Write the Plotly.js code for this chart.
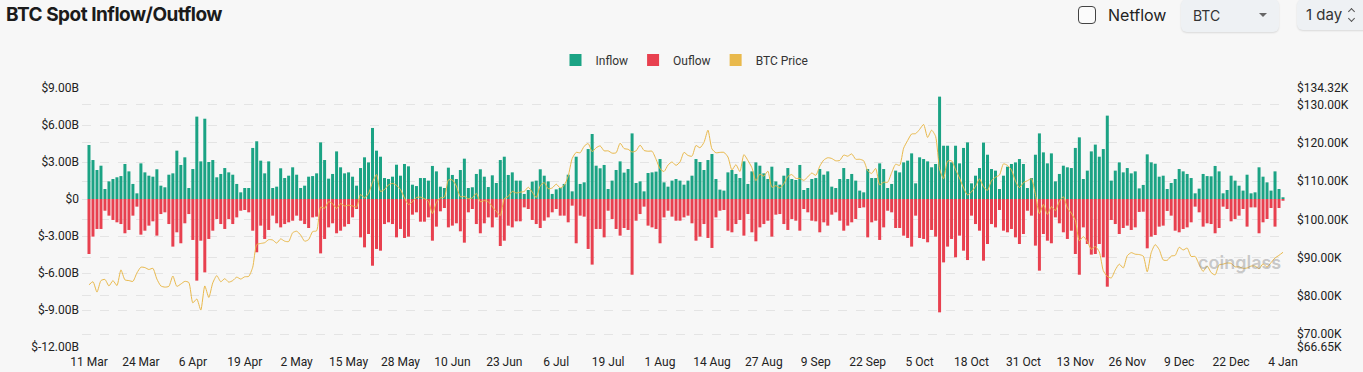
<!DOCTYPE html>
<html>
<head>
<meta charset="utf-8">
<script src="https://cdn.plot.ly/plotly-3.0.1.min.js"></script>
<style>
html,body{margin:0;padding:0;background:#f7f7f7;width:1363px;height:372px;overflow:hidden;font-family:Inter,Roboto,sans-serif;}
#chart{position:absolute;left:0;top:0;width:1363px;height:372px;}
.title{position:absolute;left:6px;top:3px;font-weight:700;font-size:19px;color:#1b1b1b;letter-spacing:-0.5px;white-space:nowrap;}
.chk{position:absolute;left:1078px;top:6px;width:16px;height:16px;border:1.6px solid #444;border-radius:4px;background:#fbfbfb;}
.netflow{position:absolute;left:1108px;top:5px;font-size:16px;color:#222;}
.sel{position:absolute;left:1181px;top:-1px;width:98px;height:33px;background:#eef1f4;border-radius:6px;box-shadow:0 1px 2px rgba(0,0,0,0.12);}
.sel .t{position:absolute;left:12px;top:8px;font-size:14px;color:#333;}
.sel .c{position:absolute;left:78px;top:14px;width:0;height:0;border-left:4px solid transparent;border-right:4px solid transparent;border-top:4px solid #666;}
.day{position:absolute;left:1297px;top:-1px;width:80px;height:31px;background:#eef1f4;border-radius:6px;box-shadow:0 1px 2px rgba(0,0,0,0.12);}
.day .t{position:absolute;left:9px;top:6px;font-size:15px;color:#333;}
.day .up,.day .dn{position:absolute;left:52px;width:4px;height:4px;border-left:1.3px solid #555;border-top:1.3px solid #555;}
.day .up{top:10px;transform:rotate(45deg);}
.day .dn{top:17px;transform:rotate(225deg);}
</style>
</head>
<body>
<div id="chart"></div>
<div class="title">BTC Spot Inflow/Outflow</div>
<div class="chk"></div>
<div class="netflow">Netflow</div>
<div class="sel"><span class="t">BTC</span><span class="c"></span></div>
<div class="day"><span class="t">1 day</span><span class="up"></span><span class="dn"></span></div>
<script>
// Daily series from 11 Mar 2025 to 4 Jan 2026 (values in $B and $K)
const startDay = '2025-03-11';

const inflow = [
4.38,3.16,2.35,2.70,0.81,1.43,1.62,1.76,1.86,2.84,
2.24,1.22,0.46,2.89,2.16,1.89,1.81,2.41,1.08,0.95,
1.97,2.08,3.92,2.76,3.38,0.89,2.43,6.68,3.05,6.51,
3.00,3.16,1.76,2.03,2.51,2.16,1.97,1.22,0.54,0.89,
0.89,4.14,4.68,3.11,2.08,3.05,0.89,1.00,2.49,1.70,
1.89,2.57,1.97,0.89,1.08,1.81,1.86,2.08,4.59,3.16,
1.65,2.03,3.86,2.57,2.08,2.16,1.81,1.08,2.51,3.38,
2.97,5.76,3.92,3.43,1.70,1.62,1.81,2.78,1.89,2.84,
2.65,1.16,1.05,1.70,1.70,1.49,2.68,2.24,1.00,0.89,
2.54,1.95,1.62,2.35,3.27,0.89,0.95,2.03,2.41,1.81,
0.97,1.92,1.30,3.16,3.43,1.95,2.16,1.49,1.49,0.41,
0.73,1.41,1.49,2.41,1.89,1.43,0.41,0.78,0.89,1.22,
1.97,0.62,3.43,1.22,1.35,4.05,5.27,2.70,2.49,2.76,
0.81,1.49,2.35,3.05,2.14,2.43,5.32,1.30,1.43,0.62,
2.11,2.16,2.22,3.24,1.35,1.00,1.49,1.62,1.49,1.16,
1.49,1.89,3.24,3.00,2.35,3.16,3.65,1.62,0.76,0.68,
2.16,2.35,2.03,1.70,3.05,1.22,2.24,2.97,2.70,2.08,
1.62,2.62,1.43,1.16,1.89,2.51,1.62,1.54,2.76,0.73,
0.89,1.62,1.70,2.43,1.97,2.24,1.00,0.89,1.62,2.51,
1.62,2.03,1.49,0.68,0.54,2.43,1.70,1.70,2.89,2.43,
0.89,1.22,2.30,2.16,2.97,3.11,3.70,1.27,3.38,3.24,
3.05,2.57,2.84,8.30,4.32,4.32,2.97,4.32,2.89,4.14,
4.59,1.27,1.89,2.51,4.57,3.59,2.43,2.30,0.81,1.89,
2.62,2.84,2.97,3.24,2.84,0.89,1.70,3.59,5.32,3.78,
2.89,3.70,1.43,2.03,2.70,2.57,2.51,4.14,5.00,1.62,
2.30,3.86,4.41,3.43,4.05,6.76,1.49,2.30,2.97,2.16,
2.51,2.08,2.24,0.86,1.14,3.62,2.97,2.86,1.81,1.89,
0.81,1.30,1.62,2.43,2.24,2.03,1.70,0.46,0.84,2.03,
1.86,1.84,2.68,2.24,0.46,0.73,1.89,1.49,1.08,0.68,
1.97,0.46,0.54,2.57,1.81,1.35,0.68,2.24,0.81,0.14
];

const outflow = [
-4.46,-3.05,-2.43,-2.43,-0.95,-1.35,-1.70,-1.89,-2.03,-2.78,
-2.51,-1.35,-0.62,-2.89,-2.57,-2.16,-1.81,-2.97,-1.22,-1.08,
-2.03,-3.86,-2.70,-3.59,-1.97,-1.22,-3.32,-6.62,-3.38,-5.95,
-3.24,-2.57,-1.62,-2.03,-2.43,-1.62,-2.03,-1.49,-0.95,-0.89,
-1.08,-2.57,-4.32,-2.16,-3.24,-2.51,-1.35,-1.97,-2.30,-2.03,
-1.89,-1.76,-1.35,-1.76,-2.03,-2.35,-1.49,-1.43,-4.41,-3.24,
-2.30,-1.97,-2.78,-2.57,-2.24,-2.03,-1.49,-0.81,-3.11,-3.92,
-2.84,-5.41,-4.05,-4.19,-2.03,-1.89,-2.03,-3.11,-2.43,-3.16,
-3.05,-1.27,-1.08,-1.84,-1.84,-1.49,-3.38,-2.24,-1.00,-0.73,
-2.30,-2.16,-1.97,-2.62,-3.54,-1.08,-0.81,-2.03,-2.78,-1.97,
-1.49,-2.30,-1.49,-3.81,-3.38,-2.16,-2.30,-1.81,-1.81,-0.68,
-0.81,-1.70,-2.03,-2.35,-1.76,-1.49,-1.08,-0.81,-1.35,-1.35,
-1.89,-0.54,-3.59,-1.35,-1.43,-4.05,-5.32,-2.43,-2.43,-3.11,
-0.95,-1.62,-2.43,-2.97,-2.35,-2.51,-6.14,-1.76,-1.22,-0.62,
-2.16,-2.30,-2.43,-3.59,-1.49,-0.95,-1.43,-1.76,-1.76,-1.49,
-1.35,-1.97,-3.38,-3.05,-2.03,-3.16,-3.97,-1.49,-0.95,-0.89,
-2.57,-2.70,-2.03,-1.70,-2.97,-1.22,-2.70,-3.43,-2.30,-2.03,
-1.76,-3.05,-1.27,-1.22,-2.03,-2.51,-1.62,-1.76,-2.57,-0.81,
-1.08,-1.76,-1.81,-2.70,-1.89,-2.16,-1.27,-1.08,-1.76,-2.57,
-2.16,-1.89,-1.62,-0.73,-0.68,-3.11,-1.89,-1.76,-3.32,-2.30,
-0.95,-1.08,-2.35,-2.35,-2.97,-3.16,-3.86,-1.35,-3.16,-3.24,
-3.51,-2.51,-3.05,-9.19,-5.14,-3.86,-3.24,-4.73,-2.97,-4.19,
-4.95,-1.35,-2.03,-2.57,-5.00,-3.65,-2.03,-2.30,-0.89,-2.57,
-2.70,-2.43,-3.11,-3.65,-2.84,-0.95,-1.35,-3.78,-5.81,-2.84,
-3.38,-3.59,-1.49,-1.97,-2.70,-3.24,-2.57,-4.46,-6.14,-2.30,
-3.65,-4.51,-4.46,-3.65,-4.73,-7.11,-1.70,-2.03,-2.84,-2.35,
-2.16,-2.51,-2.30,-1.05,-1.03,-4.00,-3.05,-2.92,-2.24,-2.16,
-0.97,-1.35,-2.57,-2.70,-2.43,-2.30,-1.89,-0.62,-1.08,-2.24,
-1.97,-2.03,-2.78,-2.35,-0.62,-0.81,-1.81,-1.62,-1.35,-0.81,
-2.24,-0.68,-0.68,-2.78,-1.89,-1.62,-0.73,-2.24,-0.73,-0.14
];

const btcPrice = [
82.9,83.7,81.0,84.0,84.3,82.6,84.0,82.7,86.8,84.2,84.0,83.8,86.0,87.5,87.4,86.9,87.2,84.4,82.6,82.3,82.5,
85.2,82.5,83.1,83.8,83.5,78.2,79.2,76.3,82.6,79.6,83.4,85.3,83.7,84.5,83.6,84.0,84.9,84.4,85.0,85.1,87.5,93.4,93.7,93.9,94.7,94.6,93.8,94.9,94.3,94.2,
96.5,96.9,95.9,94.3,94.7,96.8,97.0,103.2,102.9,104.6,104.1,102.8,104.1,103.5,103.7,103.5,103.2,106.5,105.6,106.8,109.7,111.7,107.3,107.8,109.0,109.4,108.9,107.8,105.6,103.9,104.6,
105.7,105.8,105.4,104.7,101.5,104.4,105.6,105.8,110.3,110.3,108.7,105.9,106.0,105.4,105.6,106.8,104.6,104.9,104.6,103.3,102.1,101.0,105.4,106.0,107.3,106.9,107.1,107.3,108.4,107.1,
105.7,108.8,109.6,108.0,108.2,109.2,108.2,108.9,111.3,115.9,117.5,117.4,119.1,119.8,117.7,118.7,119.2,117.9,117.9,117.3,117.4,119.9,118.5,118.3,117.6,117.9,119.4,118.0,117.8,117.8,115.7,
113.2,112.5,114.2,115.0,114.1,115.0,117.5,116.7,116.5,119.3,118.7,120.1,123.3,118.4,117.4,117.5,117.5,116.3,112.9,114.3,112.5,116.9,115.4,113.5,110.1,111.8,111.3,112.6,108.4,108.8,108.2,
109.3,111.2,111.7,110.7,110.7,110.2,111.1,112.1,111.5,113.9,115.5,116.1,115.9,115.3,115.4,116.8,116.5,117.1,115.7,115.7,115.3,112.7,112.0,113.3,109.0,109.7,109.7,112.2,114.4,114.1,
118.6,120.6,122.3,122.4,123.5,124.8,121.4,123.3,121.7,113.2,110.6,115.2,115.3,113.0,110.8,108.2,106.4,107.2,108.6,110.6,108.5,107.6,110.1,111.0,111.6,114.5,114.1,112.9,110.0,108.3,109.6,
110.1,110.6,106.5,101.5,103.9,101.3,103.3,102.3,104.7,105.9,103.0,101.6,99.7,94.4,95.5,94.2,92.2,92.9,91.5,86.6,85.1,84.7,86.8,88.3,87.3,90.5,91.3,90.9,90.8,90.4,
86.3,91.3,93.4,92.1,89.4,89.3,90.4,90.6,92.7,92.0,92.5,90.3,90.3,88.2,86.4,87.8,86.1,85.5,88.1,88.3,88.6,88.5,87.6,87.6,87.2,87.3,87.8,87.8,87.1,88.4,87.5,
88.7,89.9,90.6,91.4
];

const xTickDates = ['2025-03-11','2025-03-24','2025-04-06','2025-04-19','2025-05-02','2025-05-15','2025-05-28','2025-06-10','2025-06-23','2025-07-06','2025-07-19','2025-08-01','2025-08-14','2025-08-27','2025-09-09','2025-09-22','2025-10-05','2025-10-18','2025-10-31','2025-11-13','2025-11-26','2025-12-09','2025-12-22','2026-01-04'];
const xTickLabels = ['11 Mar','24 Mar','6 Apr','19 Apr','2 May','15 May','28 May','10 Jun','23 Jun','6 Jul','19 Jul','1 Aug','14 Aug','27 Aug','9 Sep','22 Sep','5 Oct','18 Oct','31 Oct','13 Nov','26 Nov','9 Dec','22 Dec','4 Jan'];
const flowTickVals = [-12,-9,-6,-3,0,3,6,9];
const flowTickLabels = ['$-12.00B','$-9.00B','$-6.00B','$-3.00B','$0','$3.00B','$6.00B','$9.00B'];
const priceTickVals = [66.65,70,80,90,100,110,120,130,134.32];
const priceTickLabels = ['$66.65K','$70.00K','$80.00K','$90.00K','$100.00K','$110.00K','$120.00K','$130.00K','$134.32K'];

const t0 = Date.parse(startDay + 'T00:00:00Z');
const dates = inflow.map((_, i) => new Date(t0 + i * 86400000).toISOString().slice(0, 10));

const GREEN = '#1ba384', RED = '#e8404f', GOLD = '#e9b94c';
const tickFont = {family: 'Roboto, sans-serif', size: 12, color: '#222'};

const traces = [
  {type: 'bar', name: 'Inflow', x: dates, y: inflow, marker: {color: GREEN}, hoverinfo: 'skip'},
  {type: 'bar', name: 'Ouflow', x: dates, y: outflow, marker: {color: RED}, hoverinfo: 'skip'},
  {type: 'scatter', mode: 'lines', name: 'BTC Price', x: dates, y: btcPrice, yaxis: 'y2',
   line: {color: GOLD, width: 1, shape: 'spline', smoothing: 0.6}, showlegend: false, hoverinfo: 'skip'},
  {type: 'bar', name: 'BTC Price', x: [null], y: [null], marker: {color: GOLD}, hoverinfo: 'skip'}
];

const layout = {
  width: 1363, height: 372,
  margin: {l: 82, r: 76, t: 88, b: 25, pad: 0},
  paper_bgcolor: 'rgba(0,0,0,0)', plot_bgcolor: 'rgba(0,0,0,0)',
  barmode: 'relative', bargap: 0.25,
  showlegend: true,
  legend: {orientation: 'h', x: 0.5, xanchor: 'center', y: 1.108, yanchor: 'middle',
           font: {family: 'Roboto, sans-serif', size: 12, color: '#333'}, itemwidth: 30, traceorder: 'normal',
           bgcolor: 'rgba(0,0,0,0)'},
  xaxis: {type: 'date', range: ['2025-03-09 06:00', '2026-01-05 00:00'],
          tickmode: 'array', tickvals: xTickDates, ticktext: xTickLabels,
          showgrid: false, zeroline: false, showline: false, ticks: '', tickfont: tickFont, fixedrange: true,
          ticklabelstandoff: 6},
  yaxis: {range: [-12, 9], tickmode: 'array', tickvals: flowTickVals, ticktext: flowTickLabels,
          showgrid: true, gridcolor: '#e4e4e4', griddash: 'dash', gridwidth: 1,
          zeroline: false, showline: false, ticks: '', tickfont: tickFont, ticklabelstandoff: 2},
  yaxis2: {overlaying: 'y', side: 'right', range: [66.65, 134.32], tickmode: 'array',
           tickvals: priceTickVals, ticktext: priceTickLabels,
           showgrid: true, gridcolor: '#e4e4e4', griddash: 'dash', gridwidth: 1,
           zeroline: false, showline: false, ticks: '', tickfont: tickFont, ticklabelstandoff: 9},
  annotations: [
    {xref: 'paper', yref: 'paper', x: 0.997, y: 0.328, xanchor: 'right', yanchor: 'middle', showarrow: false,
     text: 'coinglass', font: {family: 'Inter, sans-serif', size: 18, color: 'rgba(140,140,140,0.45)', weight: 600}}
  ]
};

Plotly.newPlot('chart', traces, layout, {staticPlot: true, displayModeBar: false});
</script>
</body>
</html>
